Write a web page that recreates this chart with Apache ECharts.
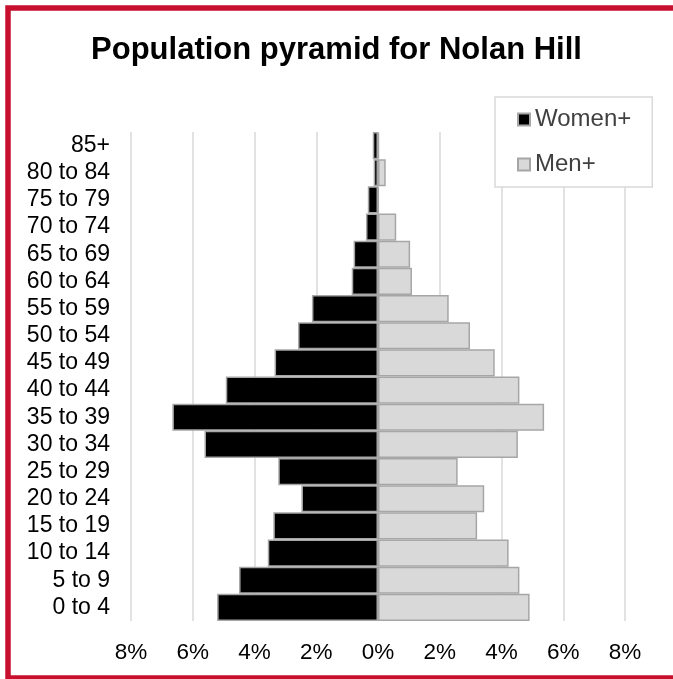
<!DOCTYPE html>
<html>
<head>
<meta charset="utf-8">
<script src="https://cdn.jsdelivr.net/npm/echarts@6/dist/echarts.min.js"></script>
<style>
  html, body { margin: 0; padding: 0; background: #fff; }
  #chart { width: 673px; height: 679px; }
</style>
</head>
<body>
<div id="chart"></div>
<script>
// age groups, bottom to top
var ageGroups = ['0 to 4', '5 to 9', '10 to 14', '15 to 19', '20 to 24', '25 to 29',
  '30 to 34', '35 to 39', '40 to 44', '45 to 49', '50 to 54', '55 to 59',
  '60 to 64', '65 to 69', '70 to 74', '75 to 79', '80 to 84', '85+'];
// share of population, %
var women = [5.21, 4.5, 3.57, 3.39, 2.48, 3.23, 5.62, 6.66, 4.93, 3.35, 2.59, 2.14,
  0.85, 0.79, 0.39, 0.33, 0.14, 0.17];
var men = [4.91, 4.58, 4.23, 3.21, 3.44, 2.58, 4.53, 5.38, 4.58, 3.78, 2.98, 2.29,
  1.1, 1.04, 0.59, 0.02, 0.25, 0.03];
var xTicks = [-8, 8, 2]; // min, max, step

var chart = echarts.init(document.getElementById('chart'));
chart.setOption({
  backgroundColor: '#fff',
  animation: false,
  textStyle: { fontFamily: 'Liberation Sans, Arial, sans-serif' },
  title: {
    text: 'Population pyramid for Nolan Hill',
    left: 'center',
    top: 30,
    textStyle: { fontSize: 31, fontWeight: 'bold', color: '#000', fontFamily: 'Liberation Sans, Arial, sans-serif' }
  },
  graphic: [{
    type: 'rect',
    shape: { x: 8, y: 8, width: 700, height: 670 },
    style: { fill: 'none', stroke: '#c8102e', lineWidth: 5.5 },
    silent: true
  }],
  legend: {
    orient: 'vertical',
    left: 495,
    top: 97,
    padding: [10, 21, 10, 22],
    itemGap: 20,
    itemWidth: 12,
    itemHeight: 12,
    icon: 'rect',
    borderColor: '#d9d9d9',
    borderWidth: 1.5,
    backgroundColor: '#fff',
    textStyle: { fontSize: 24, color: '#404040', lineHeight: 25 },
    data: ['Women+', 'Men+']
  },
  grid: { left: 131, right: 48, top: 132, bottom: 58 },
  xAxis: {
    type: 'value',
    min: xTicks[0],
    max: xTicks[1],
    interval: xTicks[2],
    axisLine: { show: false },
    axisTick: { show: false },
    axisLabel: {
      fontSize: 22.5,
      color: '#000',
      margin: 20,
      formatter: function (v) { return Math.abs(v) + '%'; }
    },
    splitLine: { lineStyle: { color: '#d9d9d9', width: 1.5 } }
  },
  yAxis: {
    type: 'category',
    data: ageGroups,
    axisLine: { show: false },
    axisTick: { show: false },
    axisLabel: { fontSize: 23, color: '#000', margin: 21, interval: 0 }
  },
  series: [{
    name: 'Women+',
    type: 'bar',
    stack: 'pop',
    barCategoryGap: '0%',
    itemStyle: { color: '#000', borderColor: '#a6a6a6', borderWidth: 1.5 },
    data: women.map(function (v) { return -v; })
  }, {
    name: 'Men+',
    type: 'bar',
    stack: 'pop',
    barCategoryGap: '0%',
    itemStyle: { color: '#d9d9d9', borderColor: '#a6a6a6', borderWidth: 1.5 },
    data: men
  }]
});
</script>
</body>
</html>
